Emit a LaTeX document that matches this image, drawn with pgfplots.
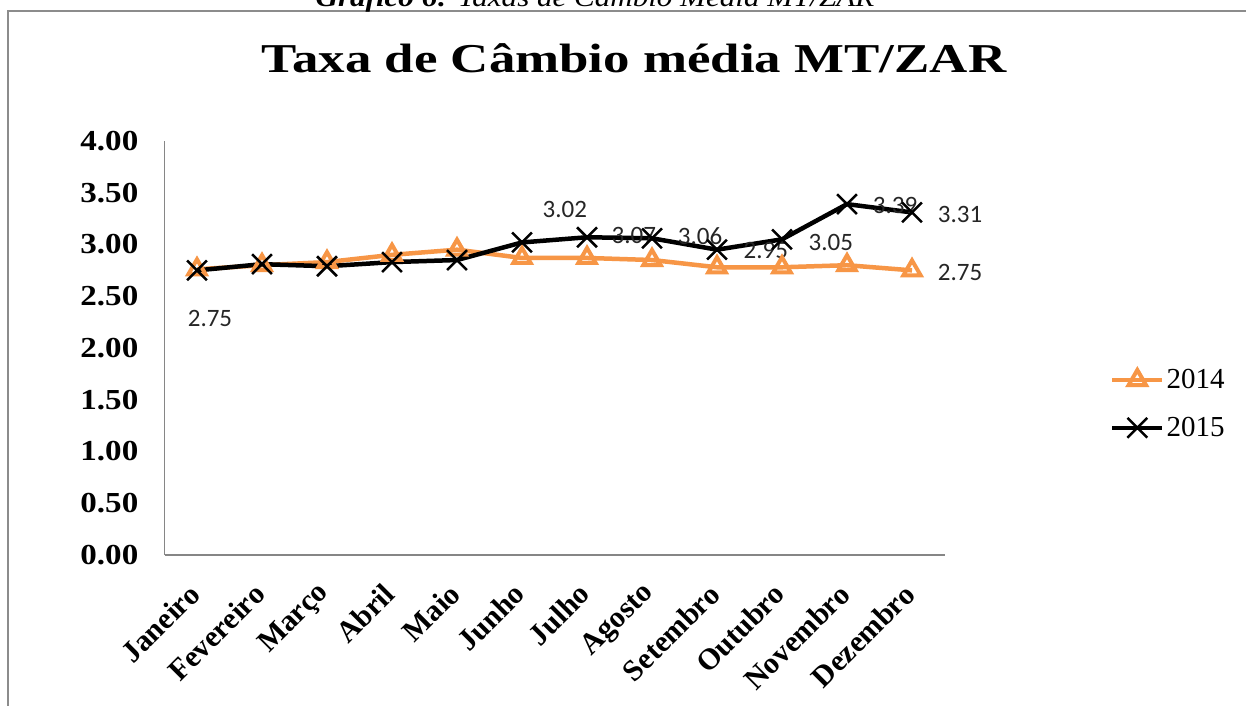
\documentclass[border=0pt]{standalone}
\usepackage{pgfplots}
\pgfplotsset{compat=1.18}
\usepackage{fontspec}
\setmainfont{Liberation Serif}
\newfontfamily\calibri{Carlito}
\usepackage{graphicx}
\definecolor{xlorange}{HTML}{F79646}
\definecolor{axgray}{HTML}{868686}
\definecolor{framegray}{HTML}{8C8C8C}
\newcommand{\hs}[1]{\scalebox{1.14}[1]{#1}}

\begin{document}
\begin{tikzpicture}
\path[use as bounding box] (0,0) rectangle (1246pt,705pt);
\clip (0,0) rectangle (1246pt,705pt);
\fill[white] (0,0) rectangle (1246pt,705pt);
\draw[color=framegray, line width=2pt] (8pt,-20pt) -- (8pt,694pt) -- (1270pt,694pt);
\node[anchor=base, font=\fontsize{27}{27}\selectfont\itshape] at (595pt,698pt) {\scalebox{1.15}[1]{\textbf{Gráfico 6:} Taxas de Câmbio Média MT/ZAR}};
\node[anchor=base, font=\fontsize{41}{41}\selectfont\bfseries] at (634pt,632pt) {\scalebox{1.29}[1]{Taxa de Câmbio média MT/ZAR}};
\begin{axis}[
  at={(164.5pt,150pt)}, anchor=south west,
  scale only axis, width=780pt, height=414pt,
  xmin=-0.5, xmax=11.5, ymin=0, ymax=4,
  axis x line*=bottom, axis y line*=left,
  axis line style={color=axgray, line width=1.3pt},
  major tick length=0pt,
  xtick={0,...,11},
  xticklabels={Janeiro,Fevereiro,Março,Abril,Maio,Junho,Julho,Agosto,Setembro,Outubro,Novembro,Dezembro},
  xticklabel style={xshift=-2.5pt, yshift=-34pt, rotate=45, anchor=east, inner sep=0pt, font=\fontsize{30}{30}\selectfont\bfseries},
  ytick={0,0.5,1,1.5,2,2.5,3,3.5,4},
  yticklabels={\hs{0.00},\hs{0.50},\hs{1.00},\hs{1.50},\hs{2.00},\hs{2.50},\hs{3.00},\hs{3.50},\hs{4.00}},
  yticklabel style={anchor=east, inner sep=0pt, xshift=-26pt, font=\fontsize{29}{29}\selectfont\bfseries},
  clip=false,
  legend cell align=left,
  legend style={at={(1.212,0.365)}, anchor=west, draw=none, fill=none, font=\fontsize{29}{29}\selectfont, row sep=23pt, inner sep=0pt},
  legend image code/.code={\draw[mark repeat=2, mark phase=2, #1] plot coordinates {(0pt,0pt) (25pt,0pt) (50pt,0pt)};},
]
\addplot[color=xlorange, line width=4.5pt, mark=triangle, mark size=10pt, mark options={line width=4pt, fill=white, solid}]
coordinates {(0,2.76) (1,2.80) (2,2.83) (3,2.90) (4,2.95) (5,2.87) (6,2.87) (7,2.85) (8,2.78) (9,2.78) (10,2.80) (11,2.75)};
\addlegendentry{2014}
\addplot[color=black, line width=4.5pt, mark=x, mark size=14pt, mark options={line width=2.5pt, solid}]
coordinates {(0,2.75) (1,2.81) (2,2.79) (3,2.83) (4,2.85) (5,3.02) (6,3.07) (7,3.06) (8,2.95) (9,3.05) (10,3.39) (11,3.31)};
\addlegendentry{2015}
\begin{scope}[every node/.style={font=\calibri\fontsize{25}{25}\selectfont, text=black!85}]
\node at (axis cs:0.2,2.29) {2.75};
\node at (axis cs:5.66,3.34) {3.02};
\node at (axis cs:6.72,3.09) {3.07};
\node at (axis cs:7.74,3.08) {3.06};
\node at (axis cs:8.75,2.94) {2.95};
\node at (axis cs:9.75,3.02) {3.05};
\node at (axis cs:10.74,3.38) {3.39};
\node at (axis cs:11.74,3.29) {3.31};
\node at (axis cs:11.74,2.73) {2.75};
\end{scope}
\end{axis}
\end{tikzpicture}
\end{document}
